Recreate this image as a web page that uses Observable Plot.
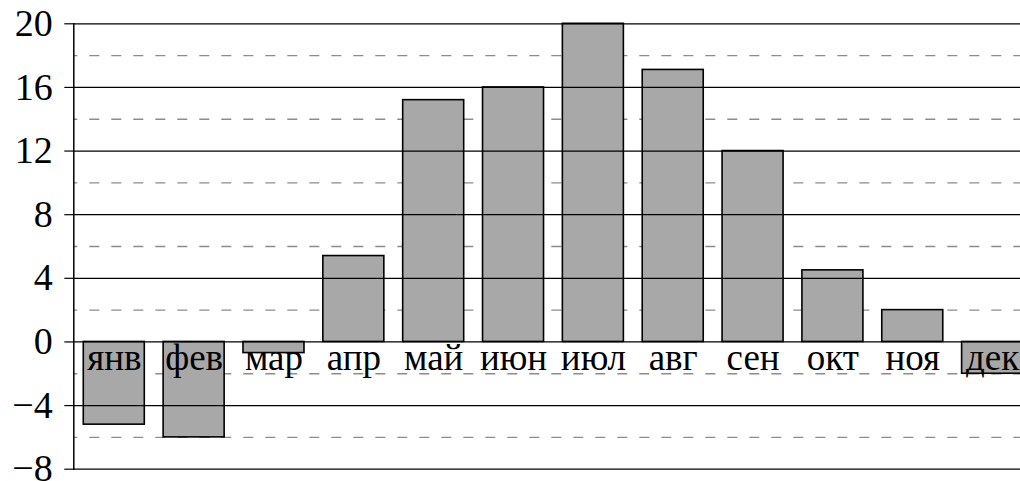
<!DOCTYPE html>
<html>
<head>
<meta charset="utf-8">
<script src="https://cdn.jsdelivr.net/npm/d3@7"></script>
<script src="https://cdn.jsdelivr.net/npm/@observablehq/plot@0.6"></script>
<style>
  html, body { margin: 0; padding: 0; background: #fff; overflow: hidden; }
  svg { display: block; }
</style>
</head>
<body>
<div id="chart"></div>
<script>
const months = ["янв", "фев", "мар", "апр", "май", "июн", "июл", "авг", "сен", "окт", "ноя", "дек"];
const temps = [-5.2, -6, -0.7, 5.4, 15.2, 16, 20, 17.1, 12, 4.5, 2, -2];
const solidTicks = [-8, -4, 0, 4, 8, 12, 16, 20];
const dashedTicks = [-6, -2, 2, 6, 10, 14, 18];

const data = months.map((m, i) => ({month: m, value: temps[i]}));
const FONT = "Liberation Serif";

const chart = Plot.plot({
  width: 1020,
  height: 481,
  marginLeft: 73.3,
  marginRight: -12.6,
  marginTop: 23.3,
  marginBottom: 12.3,
  style: {background: "#fff", overflow: "hidden", fontFamily: FONT},
  x: {domain: months, paddingInner: 0.236, paddingOuter: 0.125, round: false, axis: null},
  y: {domain: [-8, 20], ticks: solidTicks},
  marks: [
    Plot.ruleY(dashedTicks, {stroke: "#8c8c8c", strokeWidth: 1.3, strokeDasharray: "10,12", strokeDashoffset: 6}),
    Plot.barY(data, {x: "month", y: "value", fill: "#a8a8a8", stroke: "#000", strokeWidth: 1.6}),
    Plot.ruleY(solidTicks, {stroke: "#000", strokeWidth: 1.2}),
    Plot.frame({anchor: "left", stroke: "#000", strokeWidth: 1.5}),
    Plot.axisY({ticks: solidTicks, tickSize: 9, tickPadding: 12, fontSize: 38, fontFamily: FONT, stroke: "#000", color: "#000", strokeWidth: 1.2, label: null}),
    Plot.text(data, {x: "month", y: 0, text: "month", lineAnchor: "bottom", dy: 28, fontSize: 37, fontFamily: FONT, fill: "#000"})
  ]
});
document.getElementById("chart").appendChild(chart);
</script>
</body>
</html>
